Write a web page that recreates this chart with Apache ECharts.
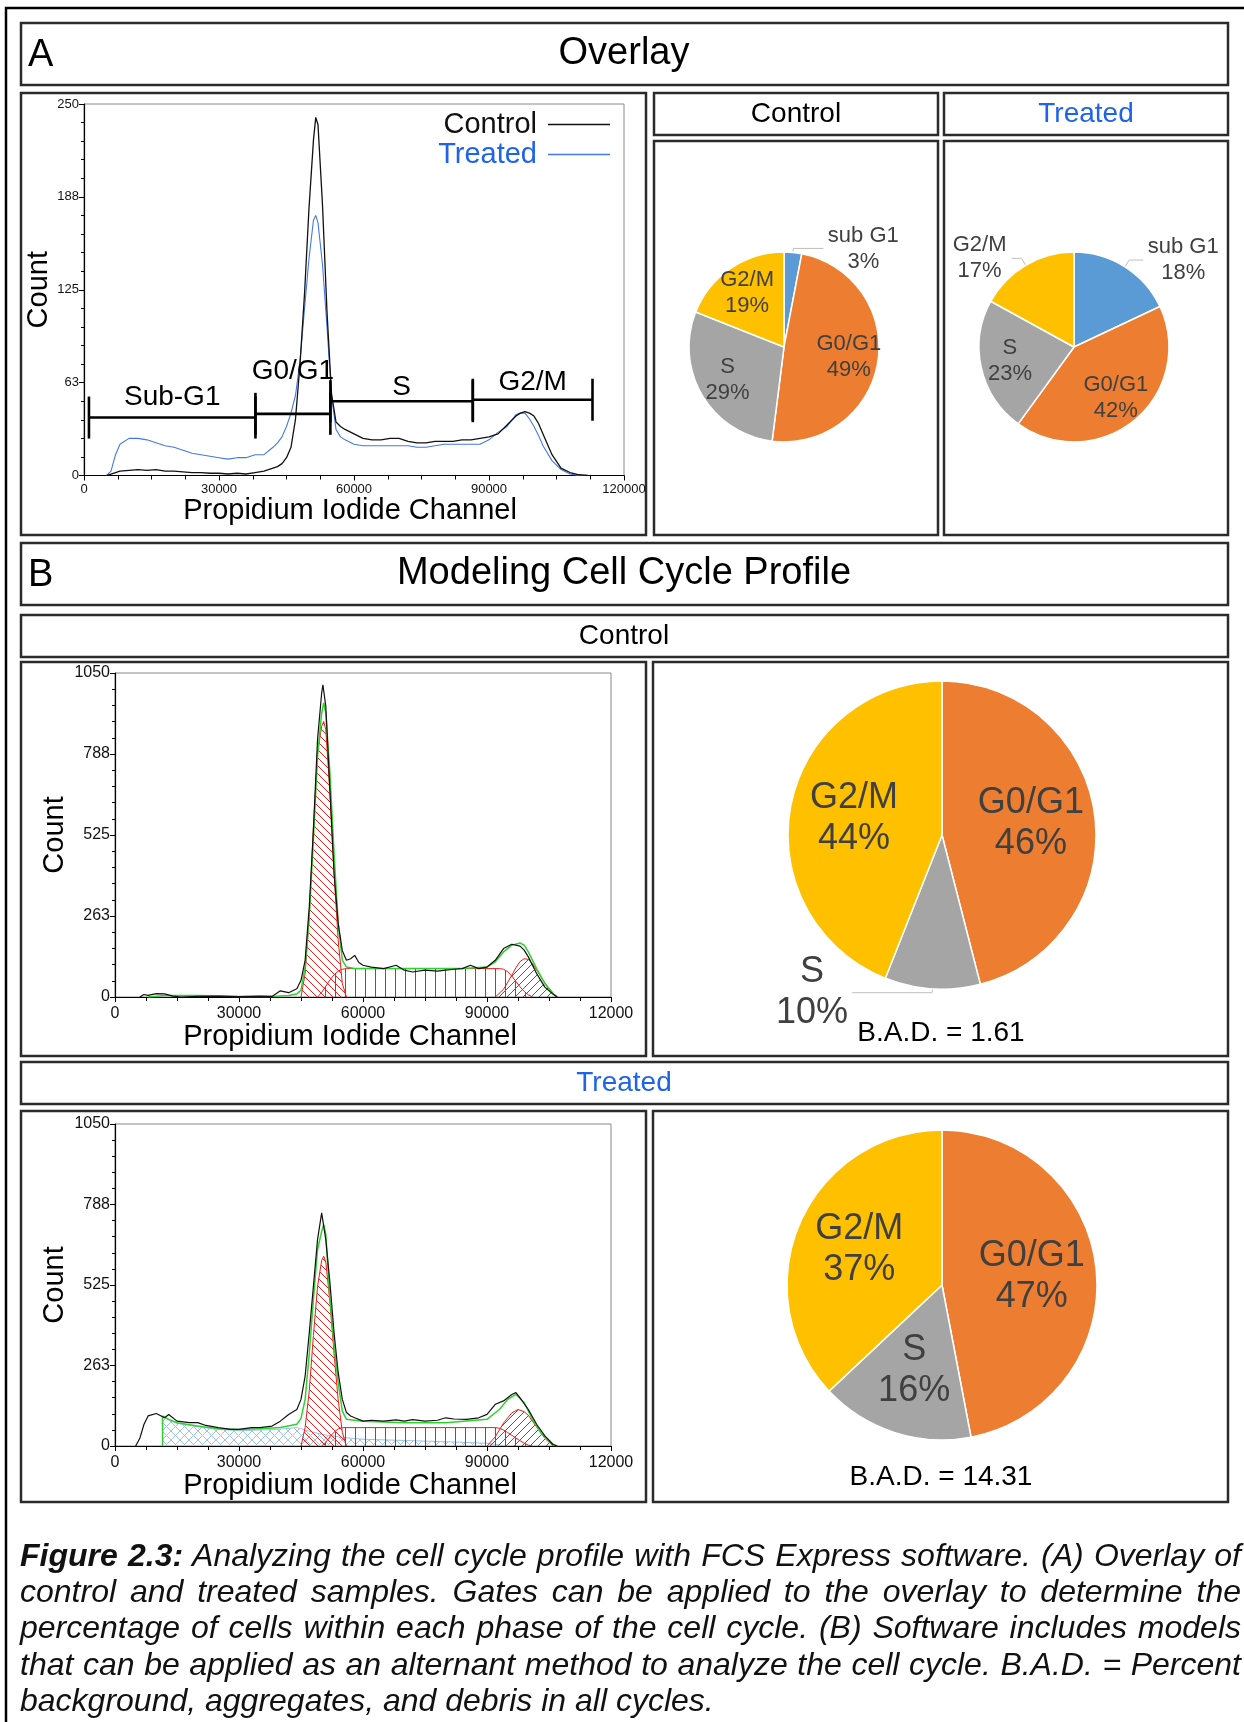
<!DOCTYPE html>
<html>
<head>
<meta charset="utf-8">
<title>Cell cycle profile</title>
<script src="https://cdn.jsdelivr.net/npm/echarts/dist/echarts.min.js"></script>
<style>
  html, body { margin: 0; padding: 0; background: #fff; }
  #chart { position: absolute; left: 0; top: 0; width: 1244px; height: 1722px; }
  #caption {
    position: absolute; left: 20px; top: 1537px; width: 1221px; z-index: 2;
    font-family: 'Liberation Sans', Arial, sans-serif; font-style: italic;
    font-size: 32px; line-height: 36.2px; color: #111;
  }
  #caption div { text-align: justify; text-align-last: justify; }
  #caption div.last { text-align-last: left; }
</style>
</head>
<body>
<div id="chart"></div>
<div id="caption">
  <div><b>Figure 2.3:</b> Analyzing the cell cycle profile with FCS Express software. (A) Overlay of</div>
  <div>control and treated samples. Gates can be applied to the overlay to determine the</div>
  <div>percentage of cells within each phase of the cell cycle. (B) Software includes models</div>
  <div>that can be applied as an alternant method to analyze the cell cycle. B.A.D. = Percent</div>
  <div class="last">background, aggregates, and debris in all cycles.</div>
</div>
<script>
// ---- A: overlay histogram (channel vs count) ----
const ovX = [5000, 6000, 7000, 8000, 10000, 12000, 14000, 16000, 18000, 20000, 22000, 24000, 26000, 28000,
  30000, 32000, 34000, 36000, 38000, 40000, 42000, 43000, 44000, 45000, 46000, 47000, 48000, 49000, 50000,
  51000, 51500, 52000, 53000, 54000, 55000, 56000, 57000, 58000, 60000, 62000, 64000, 66000, 68000, 70000,
  72000, 74000, 76000, 78000, 80000, 82000, 84000, 86000, 88000, 90000, 92000, 94000, 96000, 97000, 98000,
  99000, 100000, 101000, 102000, 104000, 106000, 108000, 110000, 112000];
const ovControl = [0, 1, 2, 3, 3.5, 4, 3.5, 4, 3, 3, 2.5, 2, 2, 1.5,
  1.5, 1, 1.5, 1, 2, 3, 5, 6, 8, 12, 19, 38, 75, 122, 180,
  226, 241, 236, 182, 110, 55, 36, 33, 31, 28, 25, 24, 24, 25, 25,
  23, 22, 22, 23, 23, 23, 24, 24, 25, 26, 28, 34, 40, 42, 43,
  42, 40, 35, 28, 14, 5, 2, 0.5, 0];
const ovTreated = [0, 3, 14, 21, 25, 25, 24, 22, 20, 19, 17, 15, 14, 13,
  12, 11, 12, 12, 14, 14, 19, 22, 26, 33, 42, 54, 77, 112, 146,
  172, 175, 170, 142, 100, 54, 31, 26, 24, 21, 20, 20, 20, 20, 20,
  20, 19, 19, 20, 21, 21, 21, 21, 21, 24, 29, 33, 41, 42, 42,
  38, 33, 27, 20, 10, 4, 1, 0, 0];

// gates drawn on the overlay
const gateNames = ['Sub-G1', 'G0/G1', 'S', 'G2/M'];
const gateStart = [1100, 38100, 54750, 86400];
const gateEnd = [38100, 54750, 86400, 113000];
const gateLevel = [39, 41.5, 50, 51];
const gateLabelY = [52.6, 70, 59.5, 63];

// ---- A: gated percentages ----
const pieNamesA = ['sub G1', 'G0/G1', 'S', 'G2/M'];
const pieControlA = [3, 49, 29, 19];
const pieTreatedA = [18, 42, 23, 17];

// ---- B: modelled control ----
const bcX = [6000, 7000, 8000, 10000, 12000, 14000, 16000, 20000, 25000, 30000, 35000, 38000,
  40000, 42000, 44000, 45000, 46000, 47000, 48000, 49000, 50000, 50300, 51000, 52000, 53000,
  54000, 55000, 56000, 57000, 58000, 59000, 60000, 62000, 65000, 68000, 70000, 72000, 75000,
  78000, 80000, 82000, 84000, 86000, 88000, 90000, 92000, 94000, 96000, 98000, 99000, 100000,
  102000, 104000, 106000, 107000];
const bcData = [0, 8, 5, 11, 10, 3, 0, 2, 3, 1, 3, 2,
  20, 14, 27, 54, 119, 292, 541, 834, 985, 1012, 942, 671, 400,
  238, 150, 119, 124, 135, 112, 103, 97, 92, 103, 87, 81, 87,
  84, 87, 90, 92, 103, 92, 97, 119, 157, 171, 165, 152, 130,
  76, 32, 9, 0];
const bcFitX = [8000, 12000, 20000, 30000, 38000, 42000, 44000, 45000, 46000, 47000, 48000, 49000,
  50000, 50500, 51000, 52000, 53000, 54000, 55000, 56000, 58000, 60000, 65000, 70000, 75000,
  80000, 85000, 90000, 92000, 94000, 96000, 98000, 99000, 100000, 102000, 104000, 106000, 107000];
const bcFit = [0, 5, 5, 2, 2, 5, 10, 22, 97, 260, 509, 780,
  920, 953, 920, 725, 465, 238, 119, 97, 92, 92, 92, 92, 92,
  92, 93, 97, 114, 146, 168, 175, 168, 146, 92, 43, 11, 0];
const bcG1X = [45000, 46000, 47000, 48000, 49000, 50000, 50500, 51000, 52000, 53000, 54000, 55000, 56000];
const bcG1 = [0, 76, 260, 552, 790, 877, 893, 866, 660, 400, 184, 43, 0];
const bcSX = [49000, 50000, 51000, 52000, 53000, 54000, 55000, 56000, 60000, 70000, 80000, 90000,
  93000, 94000, 95000, 96000, 97000, 98000, 99000, 100000, 101000];
const bcS = [0, 15, 35, 55, 72, 84, 90, 92, 92, 92, 92, 92, 92, 90, 82, 68, 50, 33, 18, 7, 0];
const bcG2X = [92000, 94000, 96000, 97000, 98000, 99000, 100000, 101000, 102000, 104000, 106000, 107000];
const bcG2 = [0, 25, 70, 95, 115, 124, 122, 108, 88, 45, 12, 0];

// ---- B: modelled treated ----
const btX = [5000, 6000, 7000, 8000, 10000, 12000, 13000, 15000, 18000, 20000, 22000, 25000, 28000,
  30000, 33000, 35000, 38000, 40000, 42000, 44000, 45000, 46000, 47000, 48000, 49000, 50000, 51000,
  52000, 53000, 54000, 55000, 56000, 57000, 58000, 60000, 62000, 65000, 68000, 70000, 72000, 75000,
  78000, 80000, 82000, 85000, 88000, 90000, 92000, 94000, 96000, 97000, 98000, 100000, 102000,
  104000, 106000, 107000];
const btData = [0, 25, 70, 98, 106, 92, 103, 81, 76, 76, 67, 60, 54,
  54, 60, 60, 65, 81, 103, 119, 152, 228, 369, 521, 673, 760, 673,
  532, 369, 239, 152, 109, 98, 92, 81, 84, 81, 85, 81, 86, 81,
  84, 92, 88, 87, 92, 103, 136, 147, 168, 174, 157, 119, 71,
  33, 5, 0];
const btFitX = [11500, 11500, 13000, 15000, 20000, 25000, 30000, 35000, 40000, 44000, 45000, 46000,
  47000, 48000, 49000, 50000, 50500, 51000, 52000, 53000, 54000, 55000, 56000, 60000, 70000, 80000,
  90000, 93000, 95000, 97000, 99000, 101000, 103000, 106000, 107000];
const btFit = [0, 98, 87, 76, 65, 56, 54, 56, 60, 71, 90, 152,
  300, 478, 640, 700, 722, 690, 478, 330, 206, 114, 87, 81, 76, 76,
  87, 119, 152, 168, 141, 87, 43, 5, 0];
const btDebrisX = [11500, 11500, 13000, 15000, 20000, 25000, 30000, 35000, 40000, 44000, 46000, 48000,
  50000, 55000, 60000, 70000, 80000, 90000, 95000];
const btDebris = [0, 95, 85, 74, 63, 54, 50, 52, 55, 60, 52, 45, 38, 28, 22, 18, 14, 9, 0];
const btG1X = [45000, 46000, 47000, 48000, 49000, 50000, 50500, 51000, 52000, 53000, 54000, 55000, 56000];
const btG1 = [0, 60, 180, 360, 520, 605, 619, 600, 470, 300, 150, 45, 0];
const btSX = [50000, 51000, 52000, 53000, 54000, 55000, 60000, 70000, 80000, 90000, 92000, 93000,
  94000, 95000, 96000, 97000, 98000, 99000, 100000, 101000];
const btS = [0, 12, 30, 45, 56, 60, 60, 60, 60, 60, 60, 58, 52, 44, 35, 26, 17, 9, 3, 0];
const btG2X = [90000, 92000, 94000, 96000, 97500, 99000, 100000, 102000, 104000, 106000];
const btG2 = [0, 30, 75, 108, 119, 112, 100, 62, 25, 0];

// ---- B: model percentages ----
const pieNamesB = ['G0/G1', 'S', 'G2/M'];
const pieControlB = [46, 10, 44];
const pieTreatedB = [47, 16, 37];

const FONT = "'Liberation Sans', Arial, sans-serif";
const NARROW = "'Liberation Sans Narrow', 'Liberation Sans', Arial, sans-serif";
const phaseColor = { 'sub G1': '#5B9BD5', 'G0/G1': '#ED7D31', 'S': '#A5A5A5', 'G2/M': '#FFC000' };
const BLUE_TXT = '#1f63e6';
const RED = '#ee1c1c';

function zip(xs, ys) { return xs.map((x, i) => [x, ys[i]]); }

// small tiles used as hatch fills
function hatch(kind, color, size) {
  const c = document.createElement('canvas');
  c.width = size; c.height = size;
  const g = c.getContext('2d');
  g.strokeStyle = color; g.lineWidth = 1;
  g.beginPath();
  if (kind === 'vert') { g.moveTo(size / 2 + 0.5, 0); g.lineTo(size / 2 + 0.5, size); }
  if (kind === 'back' || kind === 'cross') {
    g.moveTo(-1, -1); g.lineTo(size + 1, size + 1);
    g.moveTo(-1, size - 1); g.lineTo(1, size + 1);
    g.moveTo(size - 1, -1); g.lineTo(size + 1, 1);
  }
  if (kind === 'fwd' || kind === 'cross') {
    g.moveTo(size + 1, -1); g.lineTo(-1, size + 1);
    g.moveTo(1, -1); g.lineTo(-1, 1);
    g.moveTo(size + 1, size - 1); g.lineTo(size - 1, size + 1);
  }
  g.stroke();
  return { image: c, repeat: 'repeat' };
}

function xAxisFor(grid, fontSize, margin, gap, shift, lastLabel) {
  return {
    type: 'value', gridIndex: grid, min: 0, max: 120000, interval: 30000,
    axisLine: { show: true, onZero: false, lineStyle: { color: '#000', width: 1.2 } },
    axisTick: { show: true, length: 5, lineStyle: { color: '#000' } },
    minorTick: { show: true, splitNumber: 4, length: 4, lineStyle: { color: '#000' } },
    splitLine: { show: false }, minorSplitLine: { show: false },
    axisLabel: { fontSize: fontSize, color: '#111', fontFamily: NARROW, margin: margin,
      showMinLabel: true, showMaxLabel: true,
      formatter: v => (v === 120000 ? lastLabel : String(v)) },
    name: 'Propidium Iodide Channel', nameLocation: 'middle', nameGap: gap,
    nameTextStyle: { fontSize: 29, color: '#000', fontFamily: FONT, padding: [0, shift, 0, 0] }
  };
}

function yAxisFor(grid, max, fontSize, gap) {
  return {
    type: 'value', gridIndex: grid, min: 0, max: max, interval: max / 4,
    axisLine: { show: true, onZero: false, lineStyle: { color: '#000', width: 1.2 } },
    axisTick: { show: true, length: 5, lineStyle: { color: '#000' } },
    minorTick: { show: true, splitNumber: 5, length: 3, lineStyle: { color: '#000' } },
    splitLine: { show: false }, minorSplitLine: { show: false },
    axisLabel: { fontSize: fontSize, color: '#111', fontFamily: NARROW, margin: 5,
      showMinLabel: true, showMaxLabel: true, formatter: v => String(Math.round(v)) },
    name: 'Count', nameLocation: 'middle', nameGap: gap,
    nameTextStyle: { fontSize: 29, color: '#000', fontFamily: FONT }
  };
}

function traceSeries(name, grid, data, color, width, z) {
  return { name: name, type: 'line', xAxisIndex: grid, yAxisIndex: grid, data: data,
    symbol: 'none', showSymbol: false, silent: true, z: z,
    lineStyle: { color: color, width: width }, itemStyle: { color: color } };
}

function hatchSeries(name, grid, data, stroke, fill, z) {
  return { name: name, type: 'line', xAxisIndex: grid, yAxisIndex: grid, data: data,
    symbol: 'none', showSymbol: false, silent: true, z: z,
    lineStyle: { color: stroke, width: 1 }, areaStyle: { color: fill, opacity: 1 } };
}

// push "inside" pie labels a little further from the centre
function labelPush(cx, cy, k, skip) {
  return function (p) {
    if (skip.indexOf(p.dataIndex) >= 0) return {};
    const r = p.labelRect;
    const lx = r.x + r.width / 2, ly = r.y + r.height / 2;
    return { dx: (lx - cx) * k, dy: (ly - cy) * k };
  };
}

function pieSeries(names, values, center, radius, fontSize, lineH, outside, k) {
  return {
    type: 'pie', center: center, radius: [0, radius], startAngle: 90, clockwise: true,
    avoidLabelOverlap: false, silent: true,
    itemStyle: { borderColor: '#fff', borderWidth: 1.5 },
    label: { show: true, position: 'inside', formatter: '{b}\n{c}%', color: '#404040',
      fontSize: fontSize, lineHeight: lineH, fontFamily: FONT },
    labelLine: { show: false },
    labelLayout: labelPush(center[0], center[1], k, Object.keys(outside).map(Number)),
    data: names.map((n, i) => {
      const d = { name: n, value: values[i], itemStyle: { color: phaseColor[n] } };
      if (outside[i]) {
        const w = outside[i][2];
        d.label = { position: 'outside', color: '#404040', fontSize: fontSize, lineHeight: lineH,
          distanceToLabelLine: 3, formatter: '{t|{b}}\n{t|{c}%}',
          rich: { t: { width: w, align: 'center', fontSize: fontSize, lineHeight: lineH,
            color: '#404040', fontFamily: FONT } } };
        d.labelLine = { show: true, length: outside[i][0], length2: outside[i][1],
          lineStyle: { color: '#bfbfbf', width: 1 } };
      }
      return d;
    })
  };
}

function box(x, y, w, h) {
  return { type: 'rect', z: 100, silent: true, shape: { x: x, y: y, width: w, height: h },
    style: { fill: 'none', stroke: '#2b2b2b', lineWidth: 2.5 } };
}
function label(text, x, y, size, color, align) {
  return { type: 'text', z: 101, silent: true, x: x, y: y,
    style: { text: text, fill: color, font: size + 'px ' + FONT, fontSize: size, fontFamily: FONT,
      textAlign: align || 'center', align: align || 'center',
      textVerticalAlign: 'middle', verticalAlign: 'middle' } };
}

const chart = echarts.init(document.getElementById('chart'), null, { renderer: 'canvas' });

const option = {
  animation: false,
  backgroundColor: '#fff',
  grid: [
    { left: 84, top: 104, width: 540, height: 371.5, show: true, borderColor: '#888', borderWidth: 1,
      containLabel: false, outerBoundsMode: 'none' },
    { left: 115, top: 673, width: 496, height: 324, show: true, borderColor: '#888', borderWidth: 1,
      containLabel: false, outerBoundsMode: 'none' },
    { left: 115, top: 1124, width: 496, height: 322, show: true, borderColor: '#888', borderWidth: 1,
      containLabel: false, outerBoundsMode: 'none' }
  ],
  xAxis: [
    xAxisFor(0, 13, 7, 21, 8, '120000'),
    xAxisFor(1, 16, 9, 25, 26, '12000'),
    xAxisFor(2, 16, 9, 22, 26, '12000')
  ],
  yAxis: [
    yAxisFor(0, 250, 13, 31),
    yAxisFor(1, 1050, 16, 46),
    yAxisFor(2, 1050, 16, 46)
  ],
  legend: {
    data: [
      { name: 'Control', textStyle: { color: '#111' } },
      { name: 'Treated', textStyle: { color: BLUE_TXT } }
    ],
    orient: 'vertical', right: 634, top: 110, align: 'right',
    icon: 'rect', itemWidth: 62, itemHeight: 1.6, itemGap: 1, padding: 0, selectedMode: false,
    textStyle: { fontSize: 29, fontFamily: FONT, lineHeight: 26, padding: [0, 6, 0, 0] }
  },
  series: [
    // overlay
    traceSeries('Treated', 0, zip(ovX, ovTreated), '#4478e4', 1.1, 3),
    traceSeries('Control', 0, zip(ovX, ovControl), '#111', 1.3, 4),
    {
      name: 'gates', type: 'custom', xAxisIndex: 0, yAxisIndex: 0, silent: true, z: 6,
      data: gateStart.map((s, i) => [s, gateEnd[i], gateLevel[i], gateLabelY[i]]),
      encode: { x: [0, 1], y: [2, 3] },
      renderItem: function (params, api) {
        const a = api.coord([api.value(0), api.value(2)]);
        const b = api.coord([api.value(1), api.value(2)]);
        const t = api.coord([(api.value(0) + api.value(1)) / 2, api.value(3)]);
        const st = { stroke: '#000', lineWidth: 2.6 };
        return { type: 'group', children: [
          { type: 'line', shape: { x1: a[0], y1: a[1], x2: b[0], y2: b[1] }, style: st },
          { type: 'line', shape: { x1: a[0], y1: a[1] - 21, x2: a[0], y2: a[1] + 21 }, style: st },
          { type: 'line', shape: { x1: b[0], y1: b[1] - 21, x2: b[0], y2: b[1] + 21 }, style: st },
          { type: 'text', x: t[0], y: t[1], style: { text: gateNames[params.dataIndex],
            fill: '#000', fontSize: 28, fontFamily: FONT, align: 'center', verticalAlign: 'middle' } }
        ] };
      }
    },
    // modelled control
    hatchSeries('ctrl S', 1, zip(bcSX, bcS), RED, hatch('vert', RED, 10), 2),
    hatchSeries('ctrl G0/G1', 1, zip(bcG1X, bcG1), RED, hatch('back', RED, 8), 2),
    hatchSeries('ctrl G2/M', 1, zip(bcG2X, bcG2), RED, hatch('fwd', RED, 8), 2),
    traceSeries('ctrl fit', 1, zip(bcFitX, bcFit), '#2fd12f', 1.5, 3),
    traceSeries('ctrl data', 1, zip(bcX, bcData), '#111', 1.2, 4),
    // modelled treated
    hatchSeries('trt debris', 2, zip(btDebrisX, btDebris), '#9cc3ea', hatch('cross', '#9cc3ea', 9), 1),
    hatchSeries('trt S', 2, zip(btSX, btS), RED, hatch('vert', RED, 10), 2),
    hatchSeries('trt G0/G1', 2, zip(btG1X, btG1), RED, hatch('back', RED, 8), 2),
    hatchSeries('trt G2/M', 2, zip(btG2X, btG2), RED, hatch('fwd', RED, 8), 2),
    traceSeries('trt fit', 2, zip(btFitX, btFit), '#2fd12f', 1.5, 3),
    traceSeries('trt data', 2, zip(btX, btData), '#111', 1.2, 4),
    // pies
    pieSeries(pieNamesA, pieControlA, [784, 347], 95, 22, 26, { 0: [4, 30, 74] }, 0.3),
    pieSeries(pieNamesA, pieTreatedA, [1074, 347], 95, 22, 26, { 0: [8, 14, 74], 3: [8, 10, 58] }, 0.3),
    pieSeries(pieNamesB, pieControlB, [942, 835], 154, 36, 41, { 1: [4, 80, 74] }, 0.12),
    pieSeries(pieNamesB, pieTreatedB, [942, 1285], 155, 36, 41, {}, 0.12)
  ],
  graphic: [
    { type: 'rect', z: 100, silent: true, shape: { x: 6, y: 8, width: 1320, height: 1800 },
      style: { fill: 'none', stroke: '#000', lineWidth: 2.5 } },
    box(21, 23, 1207, 62),
    box(21, 93, 625, 442),
    box(654, 93, 284, 42), box(944, 93, 284, 42),
    box(654, 141, 284, 394), box(944, 141, 284, 394),
    box(21, 543, 1207, 62),
    box(21, 615, 1207, 42),
    box(21, 662, 625, 394), box(653, 662, 575, 394),
    box(21, 1062, 1207, 42),
    box(21, 1111, 625, 391), box(653, 1111, 575, 391),
    label('A', 28, 56, 38, '#000', 'left'),
    label('Overlay', 624, 54, 38, '#000'),
    label('Control', 796, 114, 28, '#000'),
    label('Treated', 1086, 114, 28, BLUE_TXT),
    label('B', 28, 576, 38, '#000', 'left'),
    label('Modeling Cell Cycle Profile', 624, 574, 38, '#000'),
    label('Control', 624, 636, 28, '#000'),
    label('Treated', 624, 1083, 28, BLUE_TXT),
    label('B.A.D. = 1.61', 941, 1033, 28, '#000'),
    label('B.A.D. = 14.31', 941, 1477, 28, '#000')
  ]
};

chart.setOption(option);
</script>
</body>
</html>
